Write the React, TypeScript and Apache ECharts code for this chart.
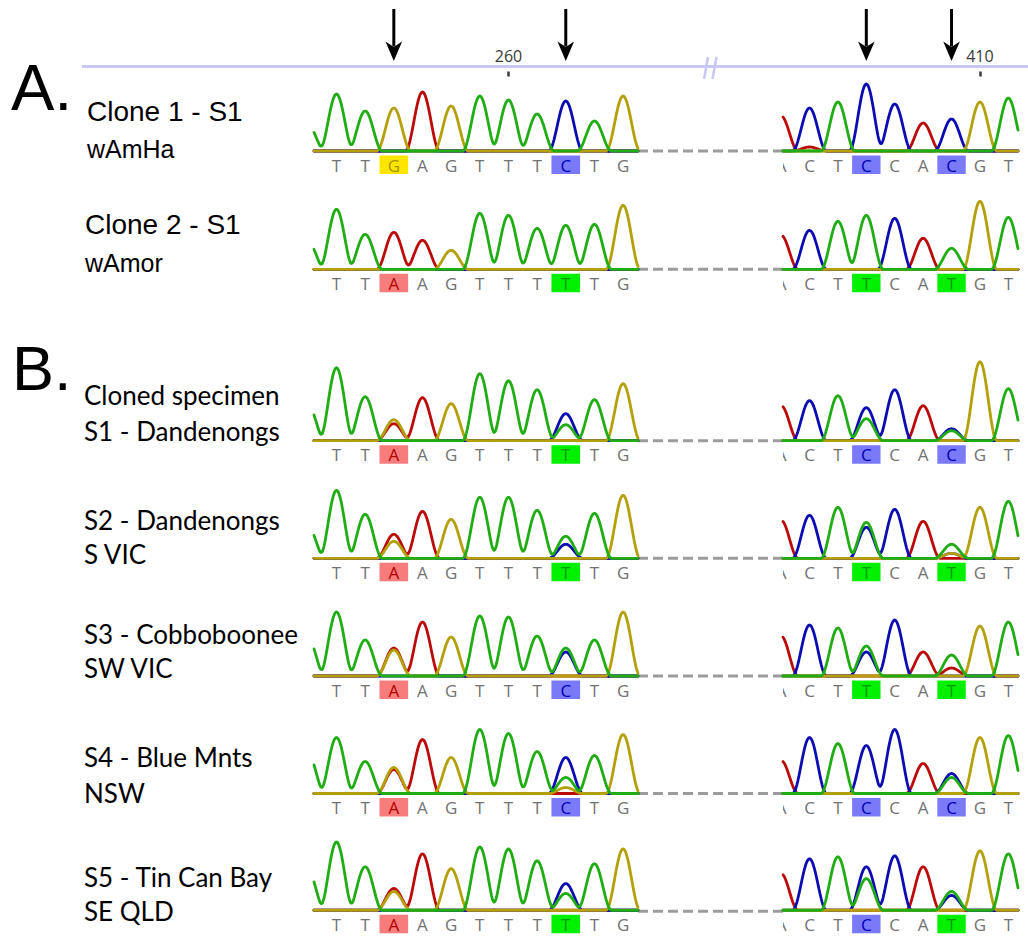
import React, { useEffect, useRef } from 'react';
import * as echarts from 'echarts';

type Channel = 'A' | 'C' | 'G' | 'T';
type Peaks = Record<Channel, number[]>;

// Sequence positions of the peaks in the two trace windows
const LEFT_POSITIONS = [253, 254, 255, 256, 257, 258, 259, 260, 261, 262, 263, 264];
const RIGHT_POSITIONS = [403, 404, 405, 406, 407, 408, 409, 410, 411];
// Base calls printed under the traces start one position later on the left
const LEFT_CALL_POSITIONS = LEFT_POSITIONS.slice(1);
const RIGHT_CALL_POSITIONS = RIGHT_POSITIONS;
// Diagnostic sites (arrows + highlighted calls)
const SNP_SITES = [256, 262, 406, 409];
const RULER_LEFT_TICKS = [260];
const RULER_RIGHT_TICKS = [410];

// Peak heights (signal units) per channel, one value per position above
const CLONE1_LEFT: Peaks = {
  A: [0, 0, 0, 0, 59, 0, 0, 0, 0, 0, 0, 0],
  C: [0, 0, 0, 0, 0, 0, 0, 0, 0, 50, 0, 0],
  G: [0, 0, 0, 43, 0, 45, 0, 0, 0, 0, 0, 55],
  T: [26, 57, 40, 0, 0, 0, 55, 51, 37, 0, 30, 0],
};
const CLONE1_RIGHT: Peaks = {
  A: [35, 4, 0, 0, 0, 28, 0, 0, 0],
  C: [0, 43, 0, 67, 47, 0, 32, 0, 0],
  G: [0, 0, 0, 0, 0, 0, 0, 49, 0],
  T: [0, 0, 49, 0, 0, 0, 0, 0, 53],
};
const CLONE2_LEFT: Peaks = {
  A: [0, 0, 0, 37, 29, 0, 0, 0, 0, 0, 0, 0],
  C: [0, 0, 0, 0, 0, 0, 0, 0, 0, 0, 0, 0],
  G: [0, 0, 0, 0, 0, 19, 0, 0, 0, 0, 0, 64],
  T: [28, 60, 35, 0, 0, 0, 56, 54, 41, 44, 45, 0],
};
const CLONE2_RIGHT: Peaks = {
  A: [34, 0, 0, 0, 0, 31, 0, 0, 0],
  C: [0, 39, 0, 0, 51, 0, 0, 0, 0],
  G: [0, 0, 0, 0, 0, 0, 0, 68, 0],
  T: [0, 0, 48, 54, 0, 0, 21, 0, 52],
};
const S1_LEFT: Peaks = {
  A: [0, 0, 0, 17, 43, 0, 0, 0, 0, 0, 0, 0],
  C: [0, 0, 0, 0, 0, 0, 0, 0, 0, 27, 0, 0],
  G: [0, 0, 0, 21, 0, 37, 0, 0, 0, 0, 0, 57],
  T: [36, 73, 44, 0, 0, 0, 67, 60, 51, 16, 41, 0],
};
const S1_RIGHT: Peaks = {
  A: [35, 0, 0, 0, 0, 35, 0, 0, 0],
  C: [0, 40, 0, 33, 51, 0, 12, 0, 0],
  G: [0, 0, 0, 0, 0, 0, 0, 79, 0],
  T: [0, 0, 45, 22, 0, 0, 10, 0, 52],
};
const S2_LEFT: Peaks = {
  A: [0, 0, 0, 24, 47, 0, 0, 0, 0, 0, 0, 0],
  C: [0, 0, 0, 0, 0, 0, 0, 0, 0, 14, 0, 0],
  G: [0, 0, 0, 17, 0, 39, 0, 0, 0, 0, 0, 63],
  T: [32, 68, 44, 0, 0, 0, 61, 61, 48, 22, 45, 0],
};
const S2_RIGHT: Peaks = {
  A: [38, 0, 0, 0, 0, 37, 0, 0, 0],
  C: [0, 43, 0, 31, 49, 0, 5, 0, 0],
  G: [0, 0, 0, 0, 0, 0, 5, 51, 0],
  T: [0, 0, 51, 36, 0, 0, 14, 0, 57],
};
const S3_LEFT: Peaks = {
  A: [0, 0, 0, 28, 54, 0, 0, 0, 0, 0, 0, 0],
  C: [0, 0, 0, 0, 0, 0, 0, 0, 0, 24, 0, 0],
  G: [0, 0, 0, 26, 0, 39, 0, 0, 0, 0, 0, 64],
  T: [38, 64, 36, 0, 0, 0, 60, 59, 40, 28, 36, 0],
};
const S3_RIGHT: Peaks = {
  A: [40, 0, 0, 0, 0, 24, 8, 0, 0],
  C: [0, 51, 0, 24, 56, 0, 0, 0, 0],
  G: [0, 0, 0, 0, 0, 0, 0, 50, 0],
  T: [0, 0, 48, 30, 0, 0, 21, 0, 54],
};
const S4_LEFT: Peaks = {
  A: [0, 0, 0, 24, 54, 0, 0, 0, 0, 0, 0, 0],
  C: [0, 0, 0, 0, 0, 0, 0, 0, 0, 36, 0, 0],
  G: [0, 0, 0, 26, 0, 36, 0, 0, 0, 6, 0, 59],
  T: [40, 56, 32, 0, 0, 0, 64, 60, 42, 16, 38, 0],
};
const S4_RIGHT: Peaks = {
  A: [33, 0, 0, 0, 0, 30, 0, 0, 0],
  C: [0, 56, 0, 48, 64, 0, 20, 0, 0],
  G: [0, 0, 0, 0, 0, 0, 0, 56, 0],
  T: [0, 0, 50, 0, 0, 0, 16, 0, 58],
};
const S5_LEFT: Peaks = {
  A: [0, 0, 0, 22, 57, 0, 0, 0, 0, 0, 0, 0],
  C: [0, 0, 0, 0, 0, 0, 0, 0, 0, 27, 0, 0],
  G: [0, 0, 0, 19, 0, 42, 0, 0, 0, 0, 0, 62],
  T: [40, 69, 44, 0, 0, 0, 64, 62, 50, 17, 47, 0],
};
const S5_RIGHT: Peaks = {
  A: [37, 0, 0, 0, 0, 44, 0, 0, 0],
  C: [0, 52, 0, 44, 55, 0, 15, 0, 0],
  G: [0, 0, 0, 0, 0, 0, 0, 60, 0],
  T: [0, 0, 54, 32, 0, 0, 19, 0, 57],
};

const ROW_NAMES = [
  ['Clone 1 - S1', 'wAmHa'],
  ['Clone 2 - S1', 'wAmor'],
  ['Cloned specimen', 'S1 - Dandenongs'],
  ['S2 - Dandenongs', 'S VIC'],
  ['S3 - Cobboboonee', 'SW VIC'],
  ['S4 - Blue Mnts', 'NSW'],
  ['S5 - Tin Can Bay', 'SE QLD'],
];
const LEFT_CALLS = ['TTGAGTTTCTG', 'TTAAGTTTTTG', 'TTAAGTTTTTG', 'TTAAGTTTTTG', 'TTAAGTTTCTG', 'TTAAGTTTCTG', 'TTAAGTTTTTG'];
const RIGHT_CALLS = ['ACTCCACGT', 'ACTTCATGT', 'ACTCCACGT', 'ACTTCATGT', 'ACTTCATGT', 'ACTCCACGT', 'ACTCCATGT'];
const LEFT_PEAKS = [CLONE1_LEFT, CLONE2_LEFT, S1_LEFT, S2_LEFT, S3_LEFT, S4_LEFT, S5_LEFT];
const RIGHT_PEAKS = [CLONE1_RIGHT, CLONE2_RIGHT, S1_RIGHT, S2_RIGHT, S3_RIGHT, S4_RIGHT, S5_RIGHT];

// ---- layout & style ----
const CHANNELS: Channel[] = ['A', 'C', 'G', 'T'];
const TRACE_COLOR: Record<Channel, string> = { A: '#bc0a0a', C: '#0c0cb2', G: '#b4a00a', T: '#20ad14' };
const BOX_COLOR: Record<Channel, string> = { A: '#f77d7d', C: '#7a7af8', G: '#ffe600', T: '#00f000' };
const BOX_TEXT: Record<Channel, string> = { A: '#b40000', C: '#0000b8', G: '#a89400', T: '#0a9a0a' };

const LEFT_VIEW = [253.215, 264.52];
const RIGHT_VIEW = [403.067, 411.34];
const LEFT_BOX = { left: 314, width: 324 };
const RIGHT_BOX = { left: 783, width: 235 };
const BASELINES = [151, 269.3, 440.7, 558.3, 676, 793.5, 911.2];
const LABEL_Y = [[111.5, 149], [224, 262.5], [394.5, 431], [519.5, 554], [634, 668], [757, 792.5], [877, 911]];
const ABOVE = 90;
const BELOW = 26;
const RULER_Y = 66.5;
const HALF_WIDTH = 0.6; // peak half-width in bases

const bump = (d: number) => {
  const a = Math.abs(d);
  return a >= HALF_WIDTH ? 0 : (1 + Math.cos((Math.PI * a) / HALF_WIDTH)) / 2;
};

function traceSeries(axis: number, positions: number[], heights: number[], view: number[], color: string, z: number) {
  const peaks = positions.map((p, i) => [p, heights[i]]);
  const level = (x: number) => peaks.reduce((s, [p, h]) => s + h * bump(x - p), 0);
  return {
    type: 'custom',
    xAxisIndex: axis,
    yAxisIndex: axis,
    z,
    silent: true,
    data: peaks,
    renderItem: (params: any, api: any) => {
      const i = params.dataIndex;
      const c = api.value(0);
      const from = i === 0 ? view[0] : c - 0.5;
      const to = i === peaks.length - 1 ? view[1] : c + 0.5;
      const n = Math.max(2, Math.ceil((to - from) / 0.03));
      const points: number[][] = [];
      for (let k = 0; k <= n; k++) {
        const x = from + ((to - from) * k) / n;
        points.push(api.coord([x, level(x)]));
      }
      return {
        type: 'polyline',
        shape: { points },
        style: { stroke: color, lineWidth: 2.8, fill: 'none', lineJoin: 'round', lineCap: 'round' },
      };
    },
  };
}

function callSeries(axis: number, positions: number[], calls: string[]) {
  return {
    type: 'custom',
    xAxisIndex: axis,
    yAxisIndex: axis,
    z: 8,
    clip: true,
    silent: true,
    data: positions.map((p) => [p, 0]),
    renderItem: (params: any, api: any) => {
      const base = calls[params.dataIndex] as Channel;
      const pos = api.value(0);
      const [cx, cy] = api.coord([pos, 0]);
      const w = api.size([1, 0])[0];
      const marked = SNP_SITES.includes(pos);
      const children: any[] = [];
      if (marked) {
        children.push({
          type: 'rect',
          shape: { x: cx - w / 2, y: cy + 4.5, width: w, height: 18.5 },
          style: { fill: BOX_COLOR[base] },
        });
      }
      children.push({
        type: 'text',
        x: cx,
        y: cy + 14,
        style: {
          text: base,
          fill: marked ? BOX_TEXT[base] : '#727272',
          fontSize: 17,
          fontFamily: '"Open Sans", sans-serif',
          align: 'center',
          verticalAlign: 'middle',
        },
      });
      return { type: 'group', children };
    },
  };
}

function arrowSeries(axis: number, sites: number[]) {
  return {
    type: 'custom',
    xAxisIndex: axis,
    yAxisIndex: axis,
    z: 10,
    silent: true,
    data: sites.map((s) => [s, 1]),
    renderItem: (params: any, api: any) => {
      const [x, y] = api.coord([api.value(0), 1]);
      return {
        type: 'group',
        children: [
          { type: 'line', shape: { x1: x, y1: y - 57.5, x2: x, y2: y - 20 }, style: { stroke: '#000', lineWidth: 3 } },
          {
            type: 'polygon',
            shape: { points: [[x - 8.3, y - 25], [x, y - 19.5], [x + 8.3, y - 25], [x, y - 5.5]] },
            style: { fill: '#000' },
          },
        ],
      };
    },
  };
}

function buildOption() {
  const grid: any[] = [];
  const xAxis: any[] = [];
  const yAxis: any[] = [];
  const series: any[] = [];

  const addPanel = (box: any, view: number[], top: number, height: number, ymin: number, ymax: number) => {
    const i = grid.length;
    grid.push({ left: box.left, width: box.width, top, height });
    xAxis.push({ type: 'value', gridIndex: i, min: view[0], max: view[1], show: false });
    yAxis.push({ type: 'value', gridIndex: i, min: ymin, max: ymax, show: false });
    return i;
  };

  BASELINES.forEach((baseline, r) => {
    const panels = [
      { box: LEFT_BOX, view: LEFT_VIEW, positions: LEFT_POSITIONS, peaks: LEFT_PEAKS[r], callPos: LEFT_CALL_POSITIONS, calls: LEFT_CALLS[r] },
      { box: RIGHT_BOX, view: RIGHT_VIEW, positions: RIGHT_POSITIONS, peaks: RIGHT_PEAKS[r], callPos: RIGHT_CALL_POSITIONS, calls: RIGHT_CALLS[r] },
    ];
    panels.forEach((p) => {
      const i = addPanel(p.box, p.view, baseline - ABOVE, ABOVE + BELOW, -BELOW, ABOVE);
      CHANNELS.forEach((ch, k) => series.push(traceSeries(i, p.positions, p.peaks[ch], p.view, TRACE_COLOR[ch], 2 + k)));
      series.push(callSeries(i, p.callPos, p.calls.split('')));
    });
  });

  // sequence ruler with arrows over the diagnostic sites
  const ruler = (box: any, view: number[], ticks: number[]) => {
    const i = grid.length;
    grid.push({ left: box.left, width: box.width, top: RULER_Y, height: 10 });
    xAxis.push({
      type: 'value',
      gridIndex: i,
      min: view[0],
      max: view[1],
      position: 'top',
      z: 5,
      axisLine: { show: false },
      splitLine: { show: false },
      axisTick: { show: true, customValues: ticks, length: 5, lineStyle: { color: '#3a3a3a', width: 2.5 } },
      axisLabel: { show: true, customValues: ticks, margin: 3, fontSize: 16, color: '#3a3a3a', fontFamily: '"Open Sans", sans-serif' },
    });
    yAxis.push({ type: 'value', gridIndex: i, min: 0, max: 1, show: false });
    series.push(arrowSeries(i, SNP_SITES.filter((s) => s >= view[0] && s <= view[1])));
  };
  ruler(LEFT_BOX, LEFT_VIEW, RULER_LEFT_TICKS);
  ruler(RIGHT_BOX, RIGHT_VIEW, RULER_RIGHT_TICKS);

  const graphic: any[] = [
    { type: 'line', z: 0, shape: { x1: 82, y1: RULER_Y, x2: 1028, y2: RULER_Y }, style: { stroke: '#c8c8f6', lineWidth: 3 } },
    { type: 'line', z: 1, shape: { x1: 708, y1: 57, x2: 704, y2: 79 }, style: { stroke: '#c8c8f6', lineWidth: 2.5 } },
    { type: 'line', z: 1, shape: { x1: 716.5, y1: 57, x2: 712.5, y2: 79 }, style: { stroke: '#c8c8f6', lineWidth: 2.5 } },
    {
      type: 'text', x: 11, y: 87,
      style: { text: 'A.', fontSize: 65, fontFamily: '"Liberation Sans", Arial, sans-serif', fill: '#000', verticalAlign: 'middle' },
    },
    {
      type: 'text', x: 12, y: 368,
      style: { text: 'B.', fontSize: 63, fontFamily: '"Liberation Sans", Arial, sans-serif', fill: '#000', verticalAlign: 'middle' },
    },
  ];

  BASELINES.forEach((baseline, r) => {
    graphic.push({
      type: 'line',
      z: 1,
      shape: { x1: LEFT_BOX.left + LEFT_BOX.width, y1: baseline, x2: RIGHT_BOX.left, y2: baseline },
      style: { stroke: '#9c9c9c', lineWidth: 3, lineDash: [10, 5] },
    });
    const inA = r < 2;
    const [l1, l2] = ROW_NAMES[r];
    const [y1, y2] = LABEL_Y[r];
    const x = inA ? (r === 0 ? 87 : 85) : 84;
    graphic.push({
      type: 'text', x, y: y1,
      style: {
        text: l1,
        fontSize: inA ? 28 : 26,
        fontFamily: inA ? '"Liberation Sans", Arial, sans-serif' : 'Lato, "Open Sans", sans-serif',
        fill: '#000',
        verticalAlign: 'middle',
      },
    });
    graphic.push({
      type: 'text', x, y: y2,
      style: {
        text: l2,
        fontSize: inA ? 25 : 26,
        fontFamily: inA ? '"Liberation Sans", Arial, sans-serif' : 'Lato, "Open Sans", sans-serif',
        fill: '#000',
        verticalAlign: 'middle',
      },
    });
  });

  return {
    animation: false,
    backgroundColor: '#ffffff',
    grid,
    xAxis,
    yAxis,
    series,
    graphic,
  };
}

export default function App() {
  const ref = useRef<HTMLDivElement>(null);
  useEffect(() => {
    if (!ref.current) return;
    const chart = echarts.init(ref.current, undefined, { renderer: 'svg' });
    chart.setOption(buildOption() as any);
    return () => chart.dispose();
  }, []);
  return (
    <div
      ref={ref}
      style={{ position: 'absolute', left: 0, top: 0, width: 1028, height: 936, background: '#fff' }}
    />
  );
}
